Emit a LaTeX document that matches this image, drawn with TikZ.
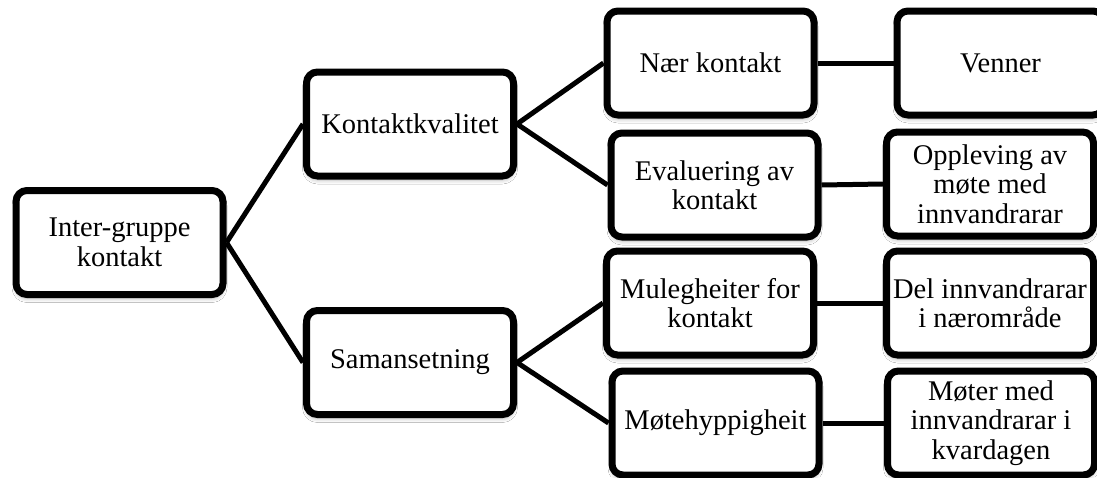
\documentclass[tikz,border=0pt]{standalone}
\usepackage{fontspec}
\setmainfont{Liberation Serif}
\usetikzlibrary{shadows.blur,backgrounds}
\begin{document}
\begin{tikzpicture}[x=1pt,y=-1pt,
  box/.style={draw=black, line width=7pt, rounded corners=11pt, fill=white,
    minimum width=207pt, minimum height=104pt, align=center, inner sep=0pt,
    font=\fontsize{28.5}{29.5}\selectfont,
    blur shadow={shadow xshift=0pt, shadow yshift=-4pt, shadow blur radius=4pt, shadow opacity=30}},
  conn/.style={draw=black, line width=5pt}]
\clip (0,0) rectangle (1097,477);
\node[box] (ig) at (119.5,242.5) {Inter-gruppe\\kontakt};
\node[box] (kk) at (410,124) {Kontaktkvalitet};
\node[box] (sa) at (410,362.5) {Samansetning};
\node[box] (nk) at (710.5,63) {Nær kontakt};
\node[box] (ve) at (1000.5,63) {Venner};
\node[box] (ev) at (714.5,185) {Evaluering av\\kontakt};
\node[box] (op) at (990,184) {Oppleving av\\møte med\\innvandrarar};
\node[box] (mu) at (710,303) {Mulegheiter for\\kontakt};
\node[box] (de) at (990,303) {Del innvandrarar\\i nærområde};
\node[box] (mh) at (715.5,423) {Møtehyppigheit};
\node[box] (mm) at (991,423) {Møter med\\innvandrarar i\\kvardagen};
\begin{scope}[on background layer]
\fill[white] (0,0) rectangle (1097,477);
\draw[conn] (ig.east) -- (kk.west);
\draw[conn] (ig.east) -- (sa.west);
\draw[conn] (kk.east) -- (nk.west);
\draw[conn] (kk.east) -- (ev.west);
\draw[conn] (sa.east) -- (mu.west);
\draw[conn] (sa.east) -- (mh.west);
\draw[conn] (nk.east) -- (ve.west);
\draw[conn] (ev.east) -- (op.west);
\draw[conn] (mu.east) -- (de.west);
\draw[conn] (mh.east) -- (mm.west);
\end{scope}
\end{tikzpicture}
\end{document}
